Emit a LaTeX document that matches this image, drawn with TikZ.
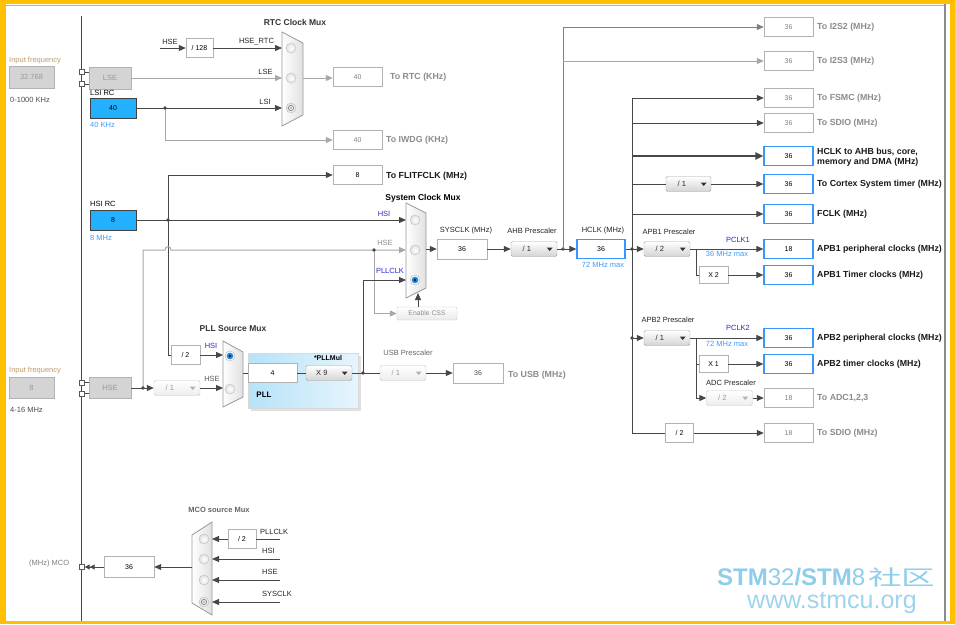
\documentclass[tikz,border=0pt]{standalone}
\usepackage{fontspec}
\setmainfont{Liberation Sans}
\newfontfamily\cjkf{Noto Sans CJK SC}
\usetikzlibrary{arrows.meta,calc}
\definecolor{frameY}{HTML}{FFC000}
\definecolor{dk}{HTML}{474747}
\definecolor{lt}{HTML}{A8A8A8}
\definecolor{bfill}{HTML}{22B0FF}
\definecolor{bline}{HTML}{3A96FF}
\definecolor{txtblue}{HTML}{3C9BFF}
\definecolor{txtviolet}{HTML}{2B2BD0}
\definecolor{tanc}{HTML}{C09A6E}
\definecolor{wm}{HTML}{8ECDEB}
\definecolor{bdot}{HTML}{2A8FDC}
\definecolor{navy}{HTML}{0B2D55}
\definecolor{pllL}{HTML}{B6E2F8}
\definecolor{pllR}{HTML}{E6F5FC}
\tikzset{
  lab/.style={inner sep=0pt, text=black!85},
  outl/.style={font=\bfseries\fontsize{8.8}{10}\selectfont, inner sep=0pt, anchor=west, text=black!90},
  outg/.style={outl, text=black!45},
  mtitle/.style={font=\bfseries\fontsize{8.5}{10}\selectfont, inner sep=0pt, text=black!80},
  vb/.style={draw=black!30, fill=white, minimum width=49pt, minimum height=19pt, inner sep=0pt, font=\fontsize{7}{8}\selectfont},
  vbb/.style={vb, draw=bline, line width=1.2pt},
  vbg/.style={vb, text=black!50},
  ar/.style={-{Triangle[length=7pt,width=6pt]}},
  dline/.style={draw=dk, line width=1pt},
  gline/.style={draw=lt, line width=1pt},
  dd/.style={draw=black!35, rounded corners=1.5pt, top color=white, bottom color=black!17, minimum height=15pt, inner sep=0pt},
  ddg/.style={draw=black!22, rounded corners=1.5pt, top color=white, bottom color=black!7, minimum height=15pt, inner sep=0pt},
  inbox/.style={draw=black!30, fill=black!17, inner sep=0pt, text=black!40},
  sq/.style={draw=black!65, fill=white, minimum size=5pt, inner sep=0pt},
  circ/.style={circle, minimum size=10pt, inner sep=0pt, draw=black!25, inner color=white, outer color=black!12},
  muxs/.style={draw=black!40, left color=white, right color=black!12, line width=0.8pt},
}
\newcommand\ddon[5]{%
  \node[dd, minimum width=#4pt] (#1) at (#2,#3) {};
  \node[inner sep=0pt, text=black!85] at ($(#1.west)+(16,0)$) {#5};
  \fill[black!80] ($(#1.east)+(-10.5,-1.5)$) -- ++(6,0) -- ++(-3,3.5) -- cycle;}
\newcommand\ddoff[5]{%
  \node[ddg, minimum width=#4pt] (#1) at (#2,#3) {};
  \node[inner sep=0pt, text=black!40] at ($(#1.west)+(16,0)$) {#5};
  \fill[black!30] ($(#1.east)+(-10.5,-1.5)$) -- ++(6,0) -- ++(-3,3.5) -- cycle;}
\newcommand\radsel[1]{%
  \node[circ] at (#1) {};
  \draw[black!50, line width=0.7pt] (#1) circle (2.6pt);
  \fill[black!35] (#1) circle (1.2pt);}
\newcommand\radblue[1]{%
  \node[circle, minimum size=10pt, inner sep=0pt, draw=black!30, fill=white] at (#1) {};
  \fill[bdot] (#1) circle (3.4pt);
  \fill[navy] (#1) circle (1.6pt);}
\newcommand\jdot[1]{\fill[dk] (#1) circle (1.8pt);}
\begin{document}
\begin{tikzpicture}[x=1pt,y=-1pt, font=\fontsize{7.5}{9}\selectfont]
\useasboundingbox (0,0) rectangle (955,624);
% frame
\fill[frameY] (0,0) rectangle (955,624);
\fill[white] (6,4) rectangle (950,621);
\draw[black!30, line width=1pt] (6,5) -- (945,5);
\draw[black!45, line width=2.5pt] (945,4) -- (945,621);
% main bus
\coordinate (busT) at (81,16);
\coordinate (busB) at (81,621);
\draw[dk, line width=1pt] (busT) -- (busB);

% ================= LSE / LSI / RTC
\node[lab, anchor=west, text=tanc] (if1) at (9,61) {Input frequency};
\node[inbox, minimum width=45pt, minimum height=22pt] (lsein) at (31.5,77) {32.768};
\node[lab, anchor=west, text=black!70] (rg1) at (10,100) {0-1000 KHz};
\node[inbox, minimum width=42pt, minimum height=22pt] (lse) at (110,78) {LSE};
\node[sq] (sqa) at (82,72) {};
\node[sq] (sqb) at (82,84) {};
\draw[dk, line width=0.8pt] (sqa) -- (sqa-|lse.west);
\draw[dk, line width=0.8pt] (sqb) -- (sqb-|lse.west);

\node[lab, anchor=west, text=black] (lsilab) at (90,93) {LSI RC};
\node[draw=black!75, fill=bfill, minimum width=46pt, minimum height=20pt, inner sep=0pt, font=\fontsize{7}{8}\selectfont] (lsi) at (113,108) {40};
\node[lab, anchor=west, text=txtblue] (lsif) at (90,125) {40 KHz};

% RTC mux
\path[muxs] (282,32) -- (303,43) -- (303,115) -- (282,126) -- cycle;
\coordinate (rtcA) at (282,48);
\coordinate (rtcB) at (282,78);
\coordinate (rtcC) at (282,108);
\coordinate (rtcO) at (303,78);
\node[circ] at (291,48) {};
\node[circ] at (291,78) {};
\radsel{291,108}
\node[mtitle] at (295,22) {RTC Clock Mux};

\coordinate (hseR) at (160,48);
\node[lab] at (170,42) {HSE};
\node[vb, minimum width=27pt] (d128) at (199.5,48) {/ 128};
\draw[dline, ar] (hseR) -- (d128);
\draw[dline, ar] (d128) -- (rtcA);
\node[lab] at (256.5,42) {HSE\_RTC};
\draw[gline, ar] (lse) -- (rtcB);
\node[lab] at (265.5,72) {LSE};
\draw[dline, ar] (lsi) -- (rtcC);
\node[lab] at (265,102) {LSI};

\node[vbg] (rtcb) at (357.5,77) {40};
\node[outg] at (390,77) {To RTC (KHz)};
\draw[gline, ar] (rtcO) -- (rtcO-|rtcb.west);

\coordinate (j1) at (165,108);
\node[vbg] (iwdg) at (357.5,140) {40};
\node[outg] at (386,140) {To IWDG (KHz)};
\draw[gline, ar] (j1) |- (iwdg);
\jdot{j1}

\node[vb] (flit) at (357.5,175) {8};
\node[outl] at (386,176) {To FLITFCLK (MHz)};

% ================= HSI
\node[lab, anchor=west, text=black] (hsilab) at (90,204) {HSI RC};
\node[draw=black!75, fill=bfill, minimum width=46pt, minimum height=20pt, inner sep=0pt, font=\fontsize{7}{8}\selectfont] (hsi) at (113,220) {8};
\node[lab, anchor=west, text=txtblue] (hsif) at (90,238) {8 MHz};

% System clock mux
\path[muxs] (406,203) -- (426,213) -- (426,288) -- (406,298) -- cycle;
\coordinate (sysA) at (406,220);
\coordinate (sysB) at (406,250);
\coordinate (sysC) at (406,280);
\coordinate (sysO) at (426,249);
\coordinate (sysBot) at (418,293);
\node[circ] at (415,220) {};
\node[circ] at (415,250) {};
\radblue{415,280}
\node[mtitle, text=black] at (423,198) {System Clock Mux};
\node[lab, text=txtviolet] at (384,214) {HSI};
\node[lab, text=black!45] at (385,243) {HSE};
\node[lab, text=txtviolet] at (390,271) {PLLCLK};

\coordinate (fl0) at (168,175);
\node[vb, minimum width=29pt] (d2) at (185.5,355) {/ 2};
\draw[dline, ar] (fl0) -- (flit);
\draw[dline] (fl0) |- (d2);
\draw[dline, ar] (hsi) -- (sysA);
\coordinate (j2) at (168,220);
\jdot{j2}

% HSE gray path
\coordinate (hj) at (143,388);
\draw[gline, ar] (hj) -- (143,250) -- (165,250) .. controls (165,245.5) and (171,245.5) .. (171,250) -- (sysB);
\coordinate (j5) at (374,250);
\node[draw=black!22, rounded corners=1pt, top color=white, bottom color=black!8, minimum width=60pt, minimum height=13pt, inner sep=0pt, text=black!45, font=\fontsize{6.8}{8}\selectfont] (css) at (427,313.5) {Enable CSS};
\draw[gline, ar] (j5) |- (css);
\jdot{j5}
\draw[dline, ar] (css.north-|sysBot) -- (sysBot);

% SYSCLK chain
\node[vb, minimum width=50pt, minimum height=20pt] (sys) at (462,249) {36};
\node[lab] at (466,231) {SYSCLK (MHz)};
\draw[dline, ar] (sysO) -- (sys);
\ddon{ahb}{534}{249}{46}{/ 1}
\node[lab] at (532,231) {AHB Prescaler};
\draw[dline, ar] (sys) -- (ahb);
\coordinate (j6) at (563,249);
\node[vbb, minimum width=48pt] (hclk) at (601,249) {36};
\node[lab] at (603,231) {HCLK (MHz)};
\node[lab, text=txtblue] at (603,265) {72 MHz max};
\draw[dline] (ahb) -- (j6);
\draw[dline, ar] (j6) -- (hclk);
\jdot{j6}

% I2S
\node[vbg] (i2s2) at (788.5,27) {36};
\node[outg] at (817,27) {To I2S2 (MHz)};
\node[vbg] (i2s3) at (788.5,61) {36};
\node[outg] at (817,61) {To I2S3 (MHz)};
\coordinate (j7) at (563,61);
\draw[draw=black!50, line width=1pt, ar] (j6) |- (i2s2);
\draw[draw=black!35, line width=1pt, ar] (j7) -- (i2s3);

% HCLK distribution
\coordinate (j8) at (632,249);
\coordinate (b1) at (632,98);
\coordinate (b2) at (632,433);
\coordinate (b3) at (632,123);
\coordinate (b4) at (632,156);
\coordinate (b5) at (632,184);
\coordinate (b6) at (632,214);
\coordinate (b7) at (632,338);
\draw[dline] (hclk) -- (j8);
\draw[dline] (b1) -- (b2);
\jdot{j8}

\node[vbg] (fsmc) at (788.5,98) {36};
\node[outg] at (817,98) {To FSMC (MHz)};
\draw[dline, ar] (b1) -- (fsmc);
\node[vbg] (sdio) at (788.5,123) {36};
\node[outg] at (817,123) {To SDIO (MHz)};
\draw[dline, ar] (b3) -- (sdio);
\node[vbb] (ahbo) at (788.5,156) {36};
\node[outl, align=left, font=\bfseries\fontsize{8.8}{10}\selectfont] at (817,157) {HCLK to AHB bus, core,\\memory and DMA (MHz)};
\draw[draw=dk, line width=2pt, -{Triangle[length=8pt,width=7pt]}] (b4) -- (ahbo);
\ddon{ctx}{688.5}{184}{45}{/ 1}
\node[vbb] (ctxo) at (788.5,184) {36};
\node[outl] at (817,184) {To Cortex System timer (MHz)};
\draw[dline] (b5) -- (ctx);
\draw[dline, ar] (ctx) -- (ctxo);
\node[vbb] (fclk) at (788.5,214) {36};
\node[outl] at (817,214) {FCLK (MHz)};
\draw[dline, ar] (b6) -- (fclk);

% APB1
\ddon{apb1}{667}{249}{46}{/ 2}
\node[lab] at (669,232) {APB1 Prescaler};
\draw[dline, ar] (j8) -- (apb1);
\coordinate (k1) at (696,249);
\node[vbb] (apb1p) at (788.5,249) {18};
\node[outl] at (817,249) {APB1 peripheral clocks (MHz)};
\node[lab, text=txtviolet] at (738,240) {PCLK1};
\node[lab, text=txtblue] at (727,254) {36 MHz max};
\draw[dline] (apb1) -- (k1);
\draw[dline, ar] (k1) -- (apb1p);
\node[vb, minimum width=29pt, minimum height=17pt] (x2) at (713.5,275) {X 2};
\draw[dline] (k1) |- (x2);
\node[vbb] (apb1t) at (788.5,275) {36};
\node[outl] at (817,275) {APB1 Timer clocks (MHz)};
\draw[dline, ar] (x2) -- (apb1t);

% APB2
\ddon{apb2}{667}{338}{46}{/ 1}
\node[lab] at (668,320) {APB2 Prescaler};
\draw[dline, ar] (b7) -- (apb2);
\jdot{b7}
\coordinate (k2) at (696,338);
\node[vbb] (apb2p) at (788.5,338) {36};
\node[outl] at (817,338) {APB2 peripheral clocks (MHz)};
\node[lab, text=txtviolet] at (738,328) {PCLK2};
\node[lab, text=txtblue] at (727,344) {72 MHz max};
\draw[dline] (apb2) -- (k2);
\draw[dline, ar] (k2) -- (apb2p);
\node[vb, minimum width=29pt, minimum height=17pt] (x1) at (713.5,364) {X 1};
\draw[dline] (k2) |- (x1);
\node[vbb] (apb2t) at (788.5,364) {36};
\node[outl] at (817,364) {APB2 timer clocks (MHz)};
\draw[dline, ar] (x1) -- (apb2t);
\node[lab] at (731,383) {ADC Prescaler};
\ddoff{adc}{729.5}{398}{46}{/ 2}
\draw[dline, ar] (k2) |- (adc);
\node[vbg] (adco) at (788.5,398) {18};
\node[outg] at (817,398) {To ADC1,2,3};
\draw[dline, ar] (adc) -- (adco);

% SDIO /2
\node[vb, minimum width=28pt] (d2b) at (679.5,433) {/ 2};
\draw[dline] (b2) -- (d2b);
\node[vbg] (sdio2) at (788.5,433) {18};
\node[outg] at (817,433) {To SDIO (MHz)};
\draw[dline, ar] (d2b) -- (sdio2);

% ================= HSE / PLL
\node[lab, anchor=west, text=tanc] (if2) at (9,371) {Input frequency};
\node[inbox, minimum width=45pt, minimum height=21pt] (hsein) at (31.5,387.5) {8};
\node[lab, anchor=west, text=black!70] (rg2) at (10,410) {4-16 MHz};
\node[inbox, minimum width=42pt, minimum height=21pt] (hse) at (110,388) {HSE};
\node[sq] (sqc) at (82,382.5) {};
\node[sq] (sqd) at (82,393.5) {};
\draw[dk, line width=0.8pt] (sqc) -- (sqc-|hse.west);
\draw[dk, line width=0.8pt] (sqd) -- (sqd-|hse.west);

% PLL source mux
\path[muxs] (223,341) -- (243,352) -- (243,397) -- (223,407) -- cycle;
\coordinate (pllA) at (223,355);
\coordinate (pllB) at (223,388);
\coordinate (pllO) at (243,373);
\radblue{230,356}
\node[circ] at (230,389) {};
\node[mtitle] at (233,329) {PLL Source Mux};
\node[lab, text=txtviolet] at (211,346) {HSI};
\node[lab, text=black!65] at (212,379) {HSE};

\draw[dline] (hse) -- (hj);
\ddoff{pre1}{177}{388}{46}{/ 1}
\draw[dline, ar] (hj) -- (pre1);
\jdot{hj}
\draw[dline, ar] (pre1) -- (pllB);
\draw[dline, ar] (d2) -- (pllA);

% PLL box
\fill[black!12] (250.5,355.5) rectangle (360.5,410.5);
\node[draw=black!15, left color=pllL, right color=pllR, minimum width=110pt, minimum height=55pt, inner sep=0pt] (pll) at (303,380.5) {};
\node[vb] (p4) at (272.5,373) {4};
\node[lab, font=\bfseries\fontsize{7}{8}\selectfont, text=black] at (328,358) {*PLLMul};
\ddon{mul}{329}{373}{46}{X 9}
\node[lab, font=\bfseries\fontsize{8}{9}\selectfont, text=black] at (264,395) {PLL};
\draw[dline] (pllO) -- (p4);
\draw[dline] (p4) -- (mul);
\coordinate (j9) at (363,373);
\draw[dline] (mul) -- (j9);
\draw[dline, ar] (j9) |- (sysC);
\jdot{j9}

% USB
\ddoff{usb}{403}{373}{46}{/ 1}
\node[lab, text=black!60] at (408,353) {USB Prescaler};
\draw[dline] (j9) -- (usb);
\node[vb, minimum width=50pt, minimum height=20pt, text=black!70] (usbo) at (478,373) {36};
\node[outg] at (508,375) {To USB (MHz)};
\draw[dline, ar] (usb) -- (usbo);

% ================= MCO
\path[muxs] (212,522) -- (212,615) -- (192,603) -- (192,535) -- cycle;
\coordinate (mcoA) at (212,539);
\coordinate (mcoB) at (212,559);
\coordinate (mcoC) at (212,580);
\coordinate (mcoD) at (212,602);
\coordinate (mcoO) at (192,567);
\node[circ] at (204,539) {};
\node[circ] at (204,559) {};
\node[circ] at (204,580) {};
\radsel{204,602}
\node[mtitle, font=\bfseries\fontsize{7.5}{9}\selectfont, text=black!60] at (219,510) {MCO source Mux};
\coordinate (inA) at (280,539);
\coordinate (inB) at (280,559);
\coordinate (inC) at (280,580);
\coordinate (inD) at (280,602);
\node[vb, minimum width=28pt] (mcod2) at (242,539) {/ 2};
\draw[dline] (inA) -- (mcod2);
\draw[dline, ar] (mcod2) -- (mcoA);
\draw[dline, ar] (inB) -- (mcoB);
\draw[dline, ar] (inC) -- (mcoC);
\draw[dline, ar] (inD) -- (mcoD);
\node[lab, anchor=west] at (260,532) {PLLCLK};
\node[lab, anchor=west] at (262,551) {HSI};
\node[lab, anchor=west] at (262,572) {HSE};
\node[lab, anchor=west] at (262,594) {SYSCLK};
\node[vb, minimum width=50pt, minimum height=21pt] (mcob) at (129,567) {36};
\draw[dline, ar] (mcoO) -- (mcob);
\node[sq] (sqe) at (82,567) {};
\draw[dline, -{Triangle[length=5pt,width=5pt]Triangle[length=5pt,width=5pt]}] (mcob) -- (sqe);
\node[lab, anchor=west, text=black!50] at (29,564) {(MHz) MCO};

% ================= watermark
\node[anchor=base west, inner sep=0pt, text=wm, font=\fontsize{24}{26}\selectfont] (wm1) at (717,585) {\bfseries STM\mdseries 32\bfseries /STM\mdseries 8\hspace{3pt}{\cjkf\scalebox{1.6}[1]{\fontsize{21}{24}\selectfont 社区}}};
\node[anchor=base west, inner sep=0pt, text=wm!85, font=\fontsize{25}{27}\selectfont] (wm2) at (747,608) {www.stmcu.org};
\end{tikzpicture}
\end{document}
